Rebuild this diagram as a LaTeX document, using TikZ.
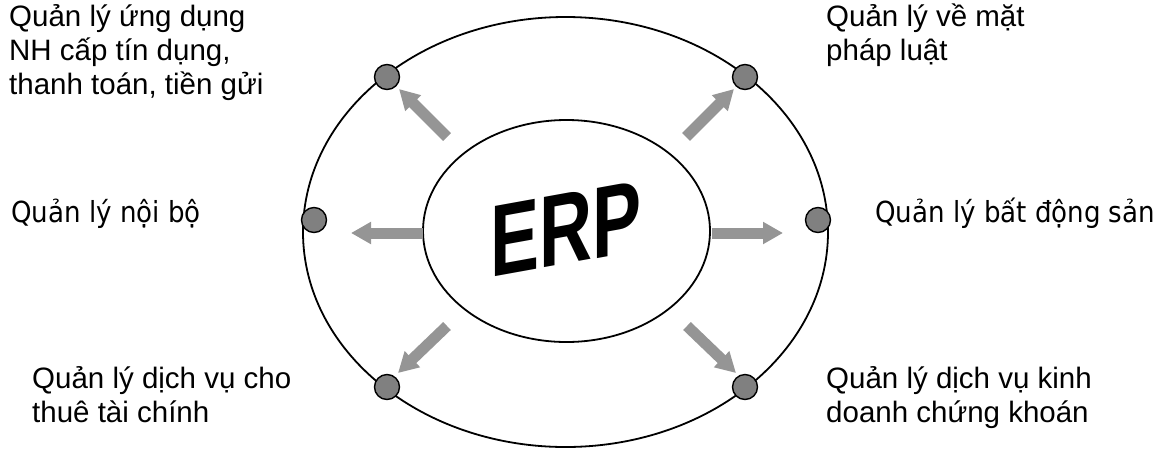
\documentclass[tikz,border=0pt]{standalone}
\usepackage{fontspec}
\setmainfont{Liberation Sans}
\newfontfamily\dejavu{DejaVu Sans Condensed}
\usetikzlibrary{arrows.meta,shapes.geometric}
\definecolor{dotgray}{HTML}{808080}
\definecolor{arrgray}{HTML}{959595}
\tikzset{
  ring/.style={draw=black, line width=1.8pt},
  dot/.style={circle, draw=black, line width=1.4pt, fill=dotgray, minimum size=25pt, inner sep=0pt},
  blockarrow/.style={draw=arrgray, line width=11pt, line cap=butt,
    -{Triangle[length=20pt,width=21pt]}},
  lbl/.style={font=\fontsize{29.5}{34}\selectfont, align=left, inner sep=0pt},
  lblb/.style={font=\dejavu\fontsize{29}{34}\selectfont, inner sep=0pt},
}
\begin{document}
\begin{tikzpicture}[x=1pt,y=-1pt]
\useasboundingbox (0,0) rectangle (1162,448);
% rings
\node[ring, ellipse, minimum width=525pt, minimum height=430pt, inner sep=0pt] (outer) at (565.5,232) {};
\node[ring, ellipse, minimum width=287pt, minimum height=222pt, inner sep=0pt] (inner) at (566.5,231) {};
% ERP
\node[font=\bfseries\fontsize{102}{102}\selectfont, xscale=0.72, yslant=0.13, inner sep=0pt] (erp) at (566,229) {ERP};
% dots
\node[dot] (d1) at (387,77) {};
\node[dot] (d2) at (745,77) {};
\node[dot] (d3) at (314,220) {};
\node[dot] (d4) at (818,220) {};
\node[dot] (d5) at (387,387) {};
\node[dot] (d6) at (745,387) {};
% arrow ends
\coordinate (t1) at (447,137); \coordinate (h1) at (399,89);
\coordinate (t2) at (686,137); \coordinate (h2) at (734,89);
\coordinate (t3) at (423,233); \coordinate (h3) at (351,233);
\coordinate (t4) at (712,233); \coordinate (h4) at (783,233);
\coordinate (t5) at (447,326); \coordinate (h5) at (398,373);
\coordinate (t6) at (687,326); \coordinate (h6) at (736,373);
\foreach \i in {1,...,6} \draw[blockarrow] (t\i) -- (h\i);
% labels
\node[lbl, anchor=north west] (l1) at (9,4) {Quản lý ứng dụng\\NH cấp tín dụng,\\thanh toán, tiền gửi};
\node[lbl, anchor=north west] (l2) at (826,4) {Quản lý về mặt\\pháp luật};
\node[lblb, anchor=base west] (l3) at (11,222) {Quản lý nội bộ};
\node[lblb, anchor=base west] (l4) at (875,222) {Quản lý bất động sản};
\node[lbl, anchor=north west] (l5) at (32,366) {Quản lý dịch vụ cho\\thuê tài chính};
\node[lbl, anchor=north west] (l6) at (826,366) {Quản lý dịch vụ kinh\\doanh chứng khoán};
\end{tikzpicture}
\end{document}
